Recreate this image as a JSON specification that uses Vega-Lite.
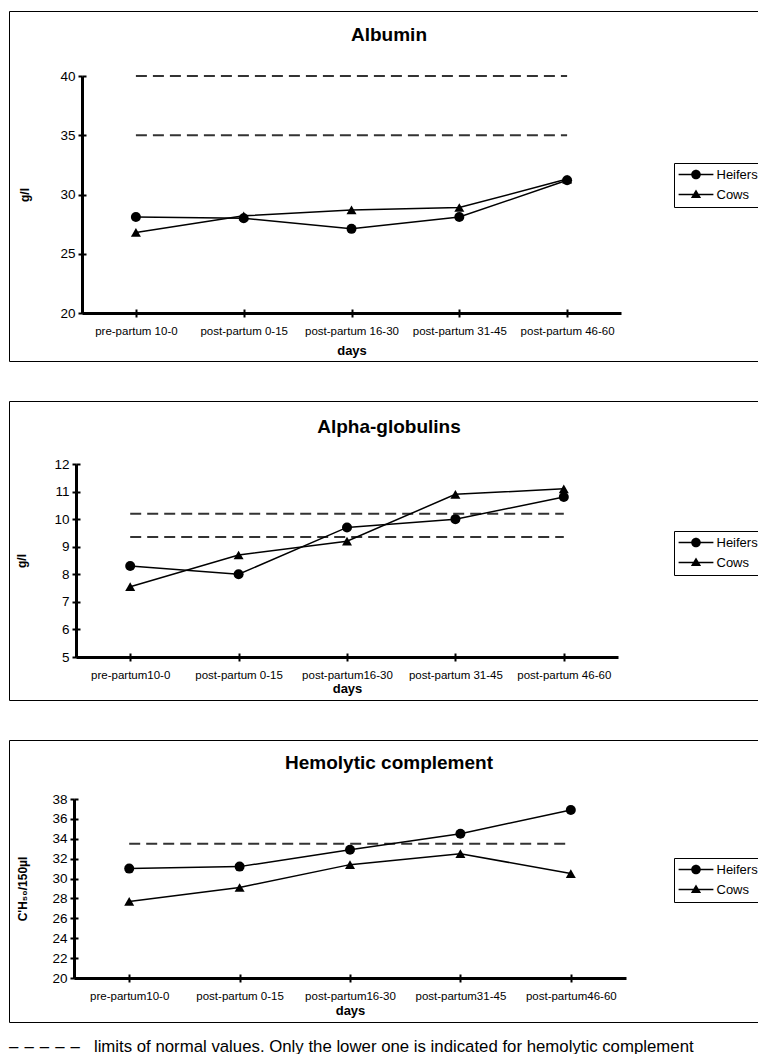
{
  "$schema": "https://vega.github.io/schema/vega-lite/v6.json",
  "padding": {"left": 8, "top": 10, "right": 0, "bottom": 0},
  "background": "white",
  "spacing": 38,
  "config": {
    "font": "Liberation Sans",
    "view": {"stroke": "black", "strokeWidth": 1},
    "axis": {"grid": false, "domainColor": "black", "domainWidth": 3, "tickColor": "black", "tickWidth": 2, "tickSize": 4, "labelColor": "black", "titleColor": "black", "titleFontWeight": "bold", "labelFont": "Liberation Sans", "titleFont": "Liberation Sans"},
    "axisX": {"labelFontSize": 11.5, "labelPadding": 8, "labelAngle": 0, "titleFontSize": 13, "labelOverlap": false},
    "axisY": {"labelFontSize": 13.5, "labelPadding": 3, "titleFontSize": 12},
    "legend": {"labelFontSize": 13, "labelColor": "black", "strokeColor": "black", "padding": 5, "rowPadding": 6, "symbolFillColor": "black", "symbolStrokeWidth": 0, "symbolOpacity": 1},
    "title": {"color": "black"}
  },
  "datasets": {
    "albumin": [
      {"day": "pre-partum 10-0", "group": "Heifers", "value": 28.1},
      {"day": "post-partum 0-15", "group": "Heifers", "value": 28.0},
      {"day": "post-partum 16-30", "group": "Heifers", "value": 27.1},
      {"day": "post-partum 31-45", "group": "Heifers", "value": 28.1},
      {"day": "post-partum 46-60", "group": "Heifers", "value": 31.2},
      {"day": "pre-partum 10-0", "group": "Cows", "value": 26.8},
      {"day": "post-partum 0-15", "group": "Cows", "value": 28.2},
      {"day": "post-partum 16-30", "group": "Cows", "value": 28.7},
      {"day": "post-partum 31-45", "group": "Cows", "value": 28.9},
      {"day": "post-partum 46-60", "group": "Cows", "value": 31.3}
    ],
    "albuminLimits": [
      {"limit": 35, "from": "pre-partum 10-0", "to": "post-partum 46-60"},
      {"limit": 40, "from": "pre-partum 10-0", "to": "post-partum 46-60"}
    ],
    "alpha": [
      {"day": "pre-partum10-0", "group": "Heifers", "value": 8.3},
      {"day": "post-partum 0-15", "group": "Heifers", "value": 8.0},
      {"day": "post-partum16-30", "group": "Heifers", "value": 9.7},
      {"day": "post-partum 31-45", "group": "Heifers", "value": 10.0},
      {"day": "post-partum 46-60", "group": "Heifers", "value": 10.8},
      {"day": "pre-partum10-0", "group": "Cows", "value": 7.55},
      {"day": "post-partum 0-15", "group": "Cows", "value": 8.7},
      {"day": "post-partum16-30", "group": "Cows", "value": 9.2},
      {"day": "post-partum 31-45", "group": "Cows", "value": 10.9},
      {"day": "post-partum 46-60", "group": "Cows", "value": 11.1}
    ],
    "alphaLimits": [
      {"limit": 9.35, "from": "pre-partum10-0", "to": "post-partum 46-60"},
      {"limit": 10.2, "from": "pre-partum10-0", "to": "post-partum 46-60"}
    ],
    "hemo": [
      {"day": "pre-partum10-0", "group": "Heifers", "value": 31.0},
      {"day": "post-partum 0-15", "group": "Heifers", "value": 31.2},
      {"day": "post-partum16-30", "group": "Heifers", "value": 32.9},
      {"day": "post-partum31-45", "group": "Heifers", "value": 34.5},
      {"day": "post-partum46-60", "group": "Heifers", "value": 36.9},
      {"day": "pre-partum10-0", "group": "Cows", "value": 27.7},
      {"day": "post-partum 0-15", "group": "Cows", "value": 29.1},
      {"day": "post-partum16-30", "group": "Cows", "value": 31.4},
      {"day": "post-partum31-45", "group": "Cows", "value": 32.5},
      {"day": "post-partum46-60", "group": "Cows", "value": 30.5}
    ],
    "hemoLimits": [
      {"limit": 33.5, "from": "pre-partum10-0", "to": "post-partum46-60"}
    ]
  },
  "title": {"text": "–\u00a0\u200a–\u00a0\u200a–\u00a0\u200a–\u00a0\u200a–\u00a0\u00a0 limits of normal values. Only the lower one is indicated for hemolytic complement", "orient": "bottom", "anchor": "start", "frame": "group", "fontSize": 16.8, "fontWeight": "normal", "offset": 16, "color": "black"},
  "vconcat": [
    {
      "width": 760, "height": 350,
      "title": {"text": "Albumin", "fontSize": 19, "fontWeight": "bold", "anchor": "middle", "frame": "group", "offset": -34},
      "resolve": {"scale": {"shape": "independent"}, "legend": {"shape": "independent"}, "axis": {"x": "independent", "y": "independent"}},
      "layer": [
        {
          "data": {"name": "albuminLimits"},
          "mark": {"type": "rule", "strokeDash": [11, 6], "strokeWidth": 2, "color": "#333333"},
          "encoding": {
            "x": {"field": "from", "type": "ordinal", "scale": {"type": "point", "domain": ["pre-partum 10-0", "post-partum 0-15", "post-partum 16-30", "post-partum 31-45", "post-partum 46-60"], "range": [73, 612]}, "axis": null},
            "x2": {"field": "to"},
            "y": {"field": "limit", "type": "quantitative", "scale": {"domain": [20, 40], "range": [302, 65], "nice": false, "zero": false}, "axis": null}
          }
        },
        {
          "data": {"name": "albumin"},
          "mark": {"type": "line", "color": "black", "strokeWidth": 1.5},
          "encoding": {
            "x": {"field": "day", "type": "ordinal", "scale": {"type": "point", "domain": ["pre-partum 10-0", "post-partum 0-15", "post-partum 16-30", "post-partum 31-45", "post-partum 46-60"], "range": [73, 612]}, "axis": {"orient": "bottom", "title": "days", "offset": -48, "titlePadding": 8}},
            "y": {"field": "value", "type": "quantitative", "scale": {"domain": [20, 40], "range": [302, 65], "nice": false, "zero": false}, "axis": {"orient": "left", "title": "g/l", "offset": -73, "values": [20, 25, 30, 35, 40], "titlePadding": 28}},
            "detail": {"field": "group", "type": "nominal"}
          }
        },
        {
          "data": {"name": "albumin"},
          "mark": {"type": "point", "filled": true, "color": "black", "opacity": 1, "size": 100},
          "encoding": {
            "x": {"field": "day", "type": "ordinal", "scale": {"type": "point", "domain": ["pre-partum 10-0", "post-partum 0-15", "post-partum 16-30", "post-partum 31-45", "post-partum 46-60"], "range": [73, 612]}, "axis": {"orient": "bottom", "offset": -48, "tickSize": -4, "labels": false, "domain": false, "title": null}},
            "y": {"field": "value", "type": "quantitative", "scale": {"domain": [20, 40], "range": [302, 65], "nice": false, "zero": false}, "axis": {"orient": "left", "offset": -73, "values": [20, 25, 30, 35, 40], "tickSize": -4, "labels": false, "domain": false, "title": null}},
            "shape": {"field": "group", "type": "nominal", "scale": {"domain": ["Heifers", "Cows"], "range": ["circle", "triangle-up"]}, "legend": null}
          }
        },
        {
          "data": {"name": "albumin"},
          "transform": [{"filter": "false"}],
          "mark": {"type": "point", "filled": true, "color": "black", "opacity": 1},
          "encoding": {
            "shape": {"field": "group", "type": "nominal", "scale": {"domain": ["Heifers", "Cows"], "range": ["M-2.9,-0.12L2.9,-0.12L2.9,0.12L-2.9,0.12ZM-0.8,0A0.8,0.8,0,1,1,0.8,0A0.8,0.8,0,1,1,-0.8,0Z", "M-2.9,-0.12L2.9,-0.12L2.9,0.12L-2.9,0.12ZM0,-0.85L0.85,0.6L-0.85,0.6Z"]},
              "legend": {"title": null, "orient": "none", "legendX": 665, "legendY": 152, "symbolSize": 144, "symbolOffset": 10.5, "labelOffset": 14}}
          }
        }
      ]
    },
    {
      "width": 760, "height": 299,
      "title": {"text": "Alpha-globulins", "fontSize": 19, "fontWeight": "bold", "anchor": "middle", "frame": "group", "offset": -36},
      "resolve": {"scale": {"shape": "independent"}, "legend": {"shape": "independent"}, "axis": {"x": "independent", "y": "independent"}},
      "layer": [
        {
          "data": {"name": "alphaLimits"},
          "mark": {"type": "rule", "strokeDash": [11, 6], "strokeWidth": 2, "color": "#333333"},
          "encoding": {
            "x": {"field": "from", "type": "ordinal", "scale": {"type": "point", "domain": ["pre-partum10-0", "post-partum 0-15", "post-partum16-30", "post-partum 31-45", "post-partum 46-60"], "range": [67, 609]}, "axis": null},
            "x2": {"field": "to"},
            "y": {"field": "limit", "type": "quantitative", "scale": {"domain": [5, 12], "range": [256, 63], "nice": false, "zero": false}, "axis": null}
          }
        },
        {
          "data": {"name": "alpha"},
          "mark": {"type": "line", "color": "black", "strokeWidth": 1.5},
          "encoding": {
            "x": {"field": "day", "type": "ordinal", "scale": {"type": "point", "domain": ["pre-partum10-0", "post-partum 0-15", "post-partum16-30", "post-partum 31-45", "post-partum 46-60"], "range": [67, 609]}, "axis": {"orient": "bottom", "title": "days", "offset": -43, "titlePadding": 2}},
            "y": {"field": "value", "type": "quantitative", "scale": {"domain": [5, 12], "range": [256, 63], "nice": false, "zero": false}, "axis": {"orient": "left", "title": "g/l", "offset": -67, "values": [5, 6, 7, 8, 9, 10, 11, 12], "titlePadding": 25}},
            "detail": {"field": "group", "type": "nominal"}
          }
        },
        {
          "data": {"name": "alpha"},
          "mark": {"type": "point", "filled": true, "color": "black", "opacity": 1, "size": 100},
          "encoding": {
            "x": {"field": "day", "type": "ordinal", "scale": {"type": "point", "domain": ["pre-partum10-0", "post-partum 0-15", "post-partum16-30", "post-partum 31-45", "post-partum 46-60"], "range": [67, 609]}, "axis": {"orient": "bottom", "offset": -43, "tickSize": -4, "labels": false, "domain": false, "title": null}},
            "y": {"field": "value", "type": "quantitative", "scale": {"domain": [5, 12], "range": [256, 63], "nice": false, "zero": false}, "axis": {"orient": "left", "offset": -67, "values": [5, 6, 7, 8, 9, 10, 11, 12], "tickSize": -4, "labels": false, "domain": false, "title": null}},
            "shape": {"field": "group", "type": "nominal", "scale": {"domain": ["Heifers", "Cows"], "range": ["circle", "triangle-up"]}, "legend": null}
          }
        },
        {
          "data": {"name": "alpha"},
          "transform": [{"filter": "false"}],
          "mark": {"type": "point", "filled": true, "color": "black", "opacity": 1},
          "encoding": {
            "shape": {"field": "group", "type": "nominal", "scale": {"domain": ["Heifers", "Cows"], "range": ["M-2.9,-0.12L2.9,-0.12L2.9,0.12L-2.9,0.12ZM-0.8,0A0.8,0.8,0,1,1,0.8,0A0.8,0.8,0,1,1,-0.8,0Z", "M-2.9,-0.12L2.9,-0.12L2.9,0.12L-2.9,0.12ZM0,-0.85L0.85,0.6L-0.85,0.6Z"]},
              "legend": {"title": null, "orient": "none", "legendX": 665, "legendY": 130, "symbolSize": 144, "symbolOffset": 10.5, "labelOffset": 14}}
          }
        }
      ]
    },
    {
      "width": 760, "height": 282,
      "title": {"text": "Hemolytic complement", "fontSize": 19, "fontWeight": "bold", "anchor": "middle", "frame": "group", "offset": -33},
      "resolve": {"scale": {"shape": "independent"}, "legend": {"shape": "independent"}, "axis": {"x": "independent", "y": "independent"}},
      "layer": [
        {
          "data": {"name": "hemoLimits"},
          "mark": {"type": "rule", "strokeDash": [11, 6], "strokeWidth": 2, "color": "#333333"},
          "encoding": {
            "x": {"field": "from", "type": "ordinal", "scale": {"type": "point", "domain": ["pre-partum10-0", "post-partum 0-15", "post-partum16-30", "post-partum31-45", "post-partum46-60"], "range": [65, 617]}, "axis": null},
            "x2": {"field": "to"},
            "y": {"field": "limit", "type": "quantitative", "scale": {"domain": [20, 38], "range": [238, 59], "nice": false, "zero": false}, "axis": null}
          }
        },
        {
          "data": {"name": "hemo"},
          "mark": {"type": "line", "color": "black", "strokeWidth": 1.5},
          "encoding": {
            "x": {"field": "day", "type": "ordinal", "scale": {"type": "point", "domain": ["pre-partum10-0", "post-partum 0-15", "post-partum16-30", "post-partum31-45", "post-partum46-60"], "range": [65, 617]}, "axis": {"orient": "bottom", "title": "days", "offset": -44, "titlePadding": 3}},
            "y": {"field": "value", "type": "quantitative", "scale": {"domain": [20, 38], "range": [238, 59], "nice": false, "zero": false}, "axis": {"orient": "left", "title": "C'H₅₀/150µl", "offset": -65, "values": [20, 22, 24, 26, 28, 30, 32, 34, 36, 38], "titlePadding": 22}},
            "detail": {"field": "group", "type": "nominal"}
          }
        },
        {
          "data": {"name": "hemo"},
          "mark": {"type": "point", "filled": true, "color": "black", "opacity": 1, "size": 100},
          "encoding": {
            "x": {"field": "day", "type": "ordinal", "scale": {"type": "point", "domain": ["pre-partum10-0", "post-partum 0-15", "post-partum16-30", "post-partum31-45", "post-partum46-60"], "range": [65, 617]}, "axis": {"orient": "bottom", "offset": -44, "tickSize": -4, "labels": false, "domain": false, "title": null}},
            "y": {"field": "value", "type": "quantitative", "scale": {"domain": [20, 38], "range": [238, 59], "nice": false, "zero": false}, "axis": {"orient": "left", "offset": -65, "values": [20, 22, 24, 26, 28, 30, 32, 34, 36, 38], "tickSize": -4, "labels": false, "domain": false, "title": null}},
            "shape": {"field": "group", "type": "nominal", "scale": {"domain": ["Heifers", "Cows"], "range": ["circle", "triangle-up"]}, "legend": null}
          }
        },
        {
          "data": {"name": "hemo"},
          "transform": [{"filter": "false"}],
          "mark": {"type": "point", "filled": true, "color": "black", "opacity": 1},
          "encoding": {
            "shape": {"field": "group", "type": "nominal", "scale": {"domain": ["Heifers", "Cows"], "range": ["M-2.9,-0.12L2.9,-0.12L2.9,0.12L-2.9,0.12ZM-0.8,0A0.8,0.8,0,1,1,0.8,0A0.8,0.8,0,1,1,-0.8,0Z", "M-2.9,-0.12L2.9,-0.12L2.9,0.12L-2.9,0.12ZM0,-0.85L0.85,0.6L-0.85,0.6Z"]},
              "legend": {"title": null, "orient": "none", "legendX": 665, "legendY": 118, "symbolSize": 144, "symbolOffset": 10.5, "labelOffset": 14}}
          }
        }
      ]
    }
  ]
}
